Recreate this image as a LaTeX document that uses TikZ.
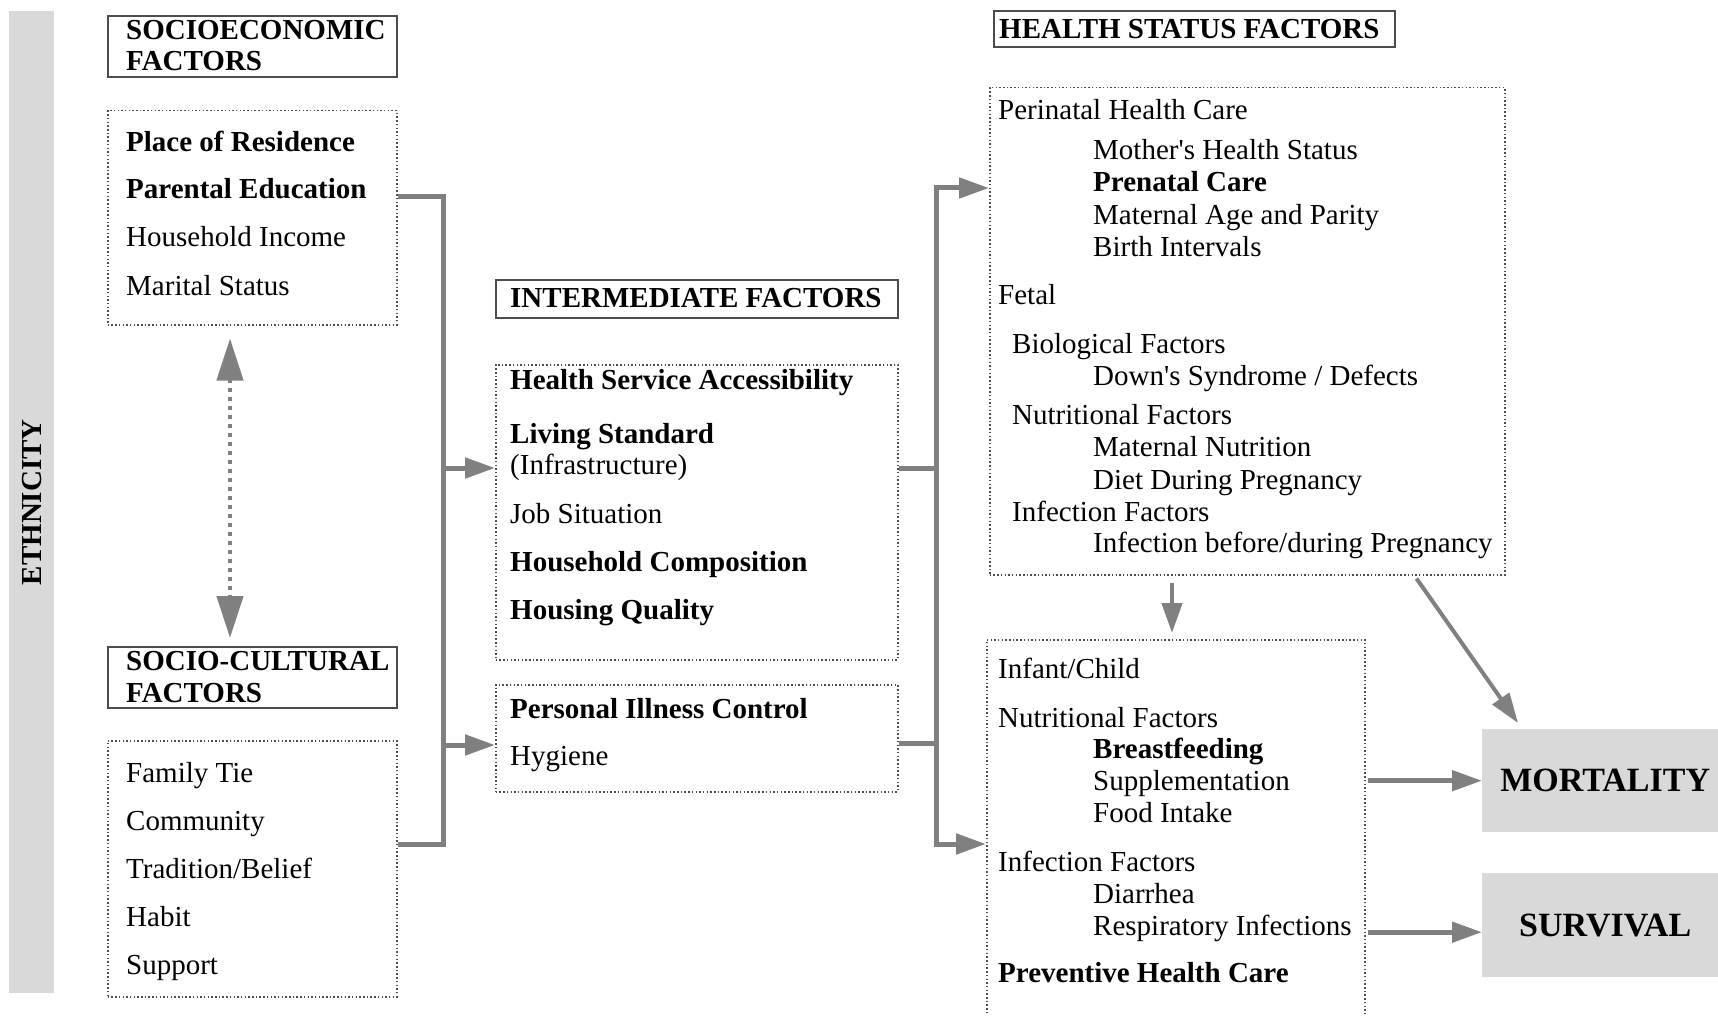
\documentclass[tikz,border=0pt]{standalone}
\usepackage{fontspec}
\setmainfont{Liberation Serif}
\usetikzlibrary{arrows.meta}
\newcommand{\bodyfont}{\fontsize{29}{32}\selectfont}
\newcommand{\bigfont}{\fontsize{34}{38}\selectfont}
\tikzstyle{titlebox} = [rectangle, draw=black!70, line width=1.6pt, inner sep=0pt, anchor=north west]
\tikzstyle{groupbox} = [rectangle, draw=black!70, line width=1.5pt, dash pattern=on 1.5pt off 2.2pt, inner sep=0pt, anchor=north west]
\tikzstyle{outbox} = [rectangle, fill=black!15, inner sep=0pt, anchor=north west, font=\bigfont\bfseries]
\tikzstyle{itemtxt} = [anchor=base west, inner sep=0pt, font=\bodyfont]
\tikzstyle{itembold} = [itemtxt, font=\bodyfont\bfseries]
\tikzstyle{busline} = [draw=black!50, line width=5pt]
\tikzstyle{arrow} = [busline, -{Triangle[length=30pt,width=20pt]}]
\tikzstyle{twoway} = [draw=black!50, line width=4.5pt, dash pattern=on 4pt off 5pt, {Triangle[length=42pt,width=26pt]}-{Triangle[length=42pt,width=26pt]}]

\begin{document}
\begin{tikzpicture}[x=1pt, y=-1pt]
\useasboundingbox (0,0) rectangle (1718,1016);
\clip (0,0) rectangle (1718,1016);

\node[outbox, minimum width=45pt, minimum height=982pt] (eth) at (9,11) {};
\node[rotate=90, font=\bodyfont\bfseries] (ethlabel) at (eth.center) {ETHNICITY};

\node[titlebox, minimum width=289pt, minimum height=61pt] (setitle) at (107,15) {};
\node[itembold] (setitleA) at (126,40) {SOCIOECONOMIC};
\node[itembold] (setitleB) at (126,71) {FACTORS};

\node[groupbox, minimum width=289pt, minimum height=214pt] (se) at (107,110) {};
\node[itembold] (residence) at (126,152) {Place of Residence};
\node[itembold] (education) at (126,199) {Parental Education};
\node[itemtxt] (income) at (126,247) {Household Income};
\node[itemtxt] (marital) at (126,295) {Marital Status};

\node[titlebox, minimum width=289pt, minimum height=61pt] (sctitle) at (107,646) {};
\node[itembold] (sctitleA) at (126,670) {SOCIO-CULTURAL};
\node[itembold] (sctitleB) at (126,702) {FACTORS};

\node[groupbox, minimum width=289pt, minimum height=256pt] (sc) at (107,740) {};
\node[itemtxt] (family) at (126,782) {Family Tie};
\node[itemtxt] (community) at (126,830) {Community};
\node[itemtxt] (tradition) at (126,878) {Tradition/Belief};
\node[itemtxt] (habit) at (126,926) {Habit};
\node[itemtxt] (support) at (126,974) {Support};

\node[titlebox, minimum width=402pt, minimum height=38pt] (imtitle) at (495,279) {};
\node[itembold] (imtitleA) at (510,308) {INTERMEDIATE FACTORS};

\node[groupbox, minimum width=402pt, minimum height=295pt] (ia) at (495,364) {};
\node[itembold] (access) at (510,389) {Health Service Accessibility};
\node[itembold] (living) at (510,443) {Living Standard};
\node[itemtxt] (infra) at (510,474) {(Infrastructure)};
\node[itemtxt] (job) at (510,523) {Job Situation};
\node[itembold] (composition) at (510,571) {Household Composition};
\node[itembold] (housing) at (510,619) {Housing Quality};

\node[groupbox, minimum width=402pt, minimum height=107pt] (ib) at (495,684) {};
\node[itembold] (illness) at (510,718) {Personal Illness Control};
\node[itemtxt] (hygiene) at (510,765) {Hygiene};

\node[titlebox, minimum width=401pt, minimum height=36pt] (hstitle) at (993,10) {};
\node[itembold] (hstitleA) at (999,39) {HEALTH STATUS FACTORS};

\node[groupbox, minimum width=515pt, minimum height=487pt] (hb) at (989,87) {};
\node[itemtxt] (perinatal) at (998,120) {Perinatal Health Care};
\node[itemtxt] (mother) at (1093,160) {Mother\textquotesingle s Health Status};
\node[itembold] (prenatal) at (1093,192) {Prenatal Care};
\node[itemtxt] (parity) at (1093,225) {Maternal Age and Parity};
\node[itemtxt] (intervals) at (1093,257) {Birth Intervals};
\node[itemtxt] (fetal) at (998,304) {Fetal};
\node[itemtxt] (biological) at (1012,353) {Biological Factors};
\node[itemtxt] (downs) at (1093,385) {Down\textquotesingle s Syndrome / Defects};
\node[itemtxt] (fetnutri) at (1012,424) {Nutritional Factors};
\node[itemtxt] (matnutri) at (1093,456) {Maternal Nutrition};
\node[itemtxt] (diet) at (1093,489) {Diet During Pregnancy};
\node[itemtxt] (fetinfect) at (1012,521) {Infection Factors};
\node[itemtxt] (preginfect) at (1093,552) {Infection before/during Pregnancy};

\node[groupbox, minimum width=378pt, minimum height=400pt] (ic) at (986,639) {};
\node[itemtxt] (infant) at (998,678) {Infant/Child};
\node[itemtxt] (chnutri) at (998,727) {Nutritional Factors};
\node[itembold] (breast) at (1093,758) {Breastfeeding};
\node[itemtxt] (supplement) at (1093,790) {Supplementation};
\node[itemtxt] (food) at (1093,822) {Food Intake};
\node[itemtxt] (chinfect) at (998,871) {Infection Factors};
\node[itemtxt] (diarrhea) at (1093,903) {Diarrhea};
\node[itemtxt] (respiratory) at (1093,935) {Respiratory Infections};
\node[itembold] (preventive) at (998,982) {Preventive Health Care};

\node[outbox, minimum width=246pt, minimum height=103pt] (mort) at (1482,729) {MORTALITY};
\node[outbox, minimum width=246pt, minimum height=104pt] (surv) at (1482,873) {SURVIVAL};

\coordinate (dx) at (230,0);
\coordinate (lx) at (443,0);
\coordinate (rx) at (936,0);
\coordinate (dn) at (1172,0);
\coordinate (seout) at ([yshift=-87pt]se.north east);
\coordinate (scout) at ([yshift=24pt]sc.east);
\coordinate (iain) at ([yshift=-104pt]ia.north west);
\coordinate (ibin) at ([yshift=-61pt]ib.north west);
\coordinate (iaout) at ([yshift=-104pt]ia.north east);
\coordinate (ibout) at ([yshift=-59pt]ib.north east);
\coordinate (hbin) at ([yshift=-101pt]hb.north west);
\coordinate (icin) at ([yshift=-205pt]ic.north west);

\draw [twoway, shorten <=13pt, shorten >=8pt] (dx |- se.south) -- (dx |- sctitle.north);

\draw [busline] (seout) -| (lx |- scout) -- (scout);
\draw [arrow] (lx |- iain) -- (iain);
\draw [arrow] (lx |- ibin) -- (ibin);

\draw [busline] (iaout) -- (rx |- iaout);
\draw [busline] (ibout) -- (rx |- ibout);
\draw [busline, line cap=rect] (rx |- hbin) -- (rx |- icin);
\draw [arrow] (rx |- hbin) -- (hbin);
\draw [arrow] (rx |- icin) -- (icin);

\draw [arrow, line width=4.5pt, shorten <=7pt, shorten >=6pt] (dn |- hb.south) -- (dn |- ic.north);
\draw [arrow, line width=4pt] ([xshift=-89pt,yshift=-3pt]hb.south east) -- ([xshift=36pt,yshift=6pt]mort.north west);
\draw [arrow] ([xshift=2pt]ic.east |- mort.west) -- (mort.west);
\draw [arrow] ([xshift=2pt,yshift=-7pt]ic.east |- surv.west) -- ([yshift=-7pt]surv.west);

\end{tikzpicture}
\end{document}
